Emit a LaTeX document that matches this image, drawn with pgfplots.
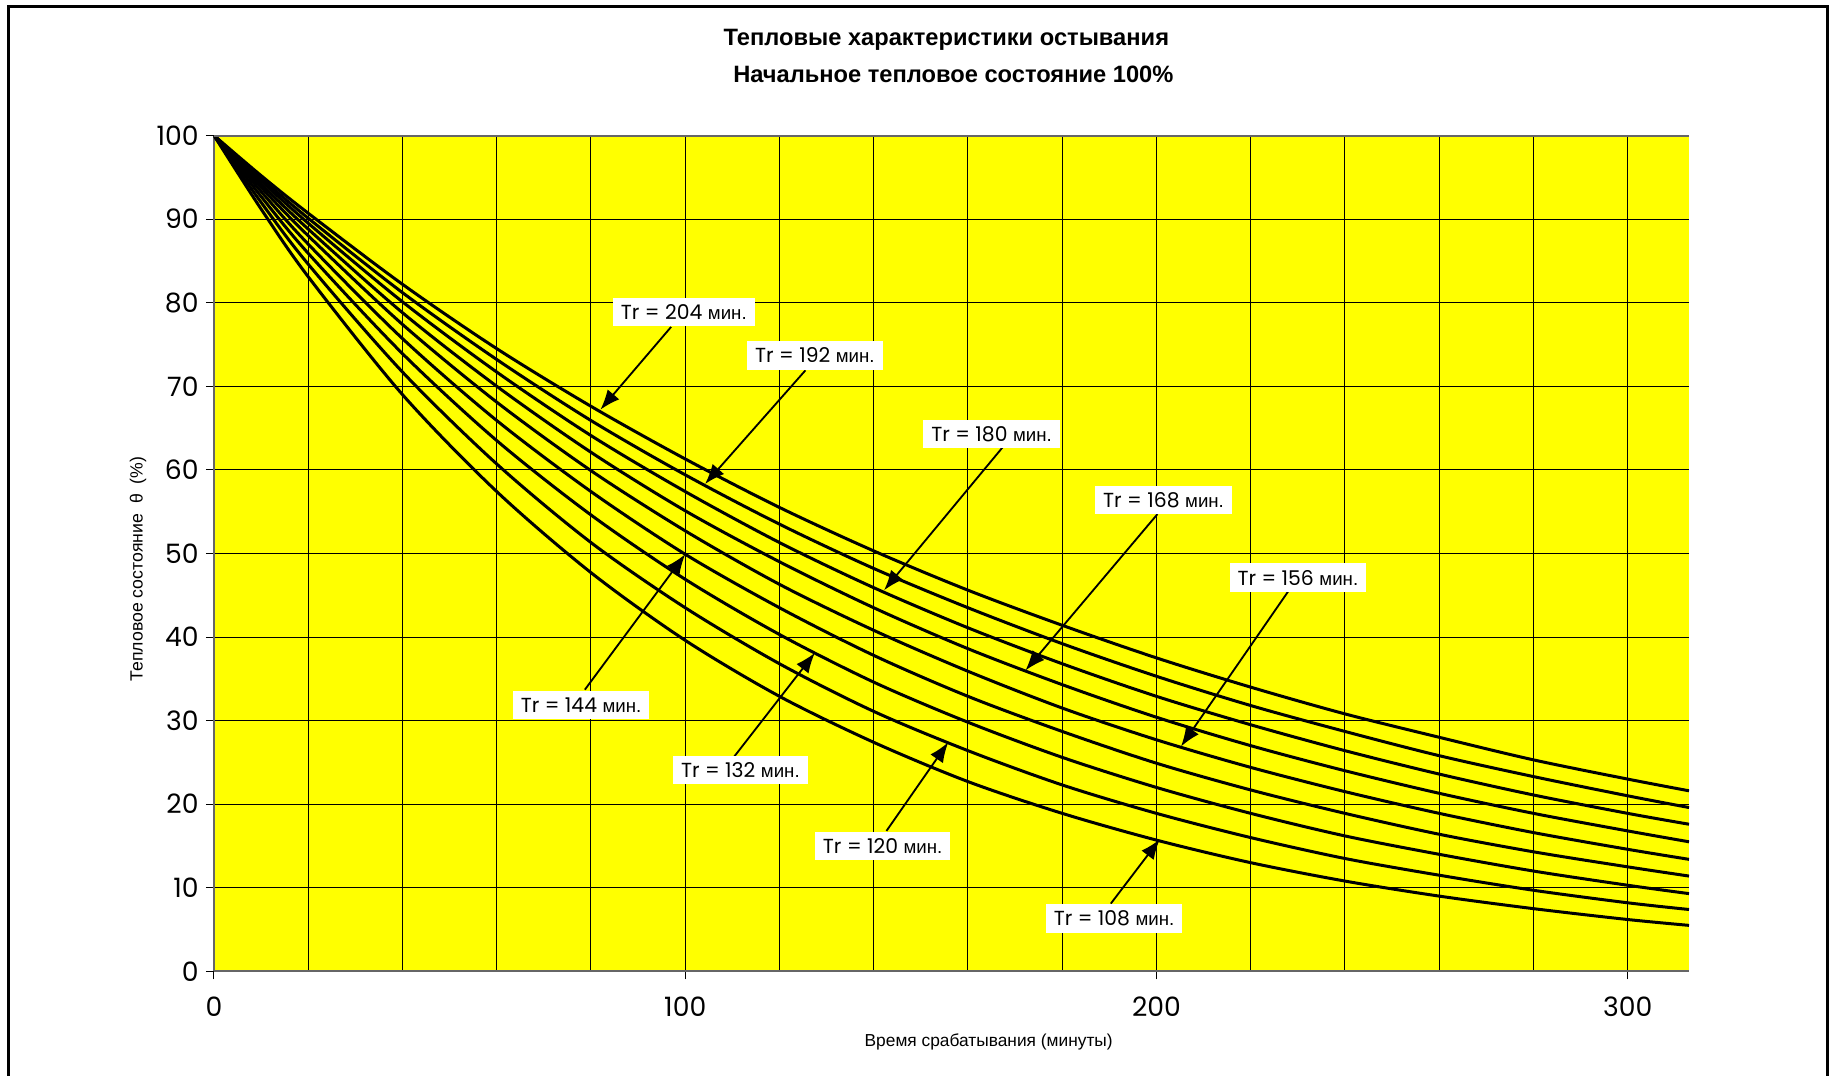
\documentclass[border=0pt]{standalone}
\usepackage{fontspec}
\setmainfont{Liberation Sans}
\newfontfamily\tickfont{Poppins}
\usepackage{pgfplots}
\pgfplotsset{compat=1.18}
\usetikzlibrary{arrows.meta}
\definecolor{yel}{RGB}{255,255,0}
\newcommand{\annot}[1]{{\tickfont\fontsize{6.1}{8}\selectfont Tr = #1}\,{\fontsize{5.6}{7}\selectfont мин.}}
\begin{document}
\begin{tikzpicture}[x=1pt,y=1pt]
\path[use as bounding box] (0,0) rectangle (549.6,322.5);
\draw[line width=0.9pt] (2.55,-5) -- (2.55,320.55) -- (548.25,320.55) -- (548.25,-5);
\begin{axis}[
  at={(64.2pt,31.1pt)}, anchor=south west,
  width=442.5pt, height=250.75pt, scale only axis,
  xmin=0, xmax=313, ymin=0, ymax=100,
  axis background/.style={fill=yel},
  axis lines*=left,
  axis line style={draw=gray!80!black, line width=0.6pt},
  xtick={0,100,200,300}, minor xtick={20,40,...,300},
  ytick={0,10,...,100},
  grid=both,
  major grid style={black, line width=0.3pt},
  minor grid style={black, line width=0.3pt},
  tick align=outside, major tick length=2.4pt, minor tick length=0pt,
  tick style={black, line width=0.3pt},
  ticklabel style={font=\tickfont\fontsize{8}{9.5}\selectfont},
  xticklabel style={yshift=-1.6pt},
  yticklabel style={xshift=1.3pt},
  /pgf/number format/assume math mode=true,
]
% Tr = 108
\addplot[black, line width=0.9pt, smooth] coordinates {(0,100) (10,91.2) (20,83.1) (40,69.0) (60,57.4) (80,47.7) (100,39.6) (120,32.9) (140,27.4) (160,22.7) (180,18.9) (200,15.7) (220,13.0) (240,10.8) (260,9.0) (280,7.5) (300,6.2) (313,5.5)};
% Tr = 120
\addplot[black, line width=0.9pt, smooth] coordinates {(0,100) (10,92.0) (20,84.6) (40,71.7) (60,60.7) (80,51.3) (100,43.5) (120,36.8) (140,31.1) (160,26.4) (180,22.3) (200,18.9) (220,16.0) (240,13.5) (260,11.5) (280,9.7) (300,8.2) (313,7.4)};
% Tr = 132
\addplot[black, line width=0.9pt, smooth] coordinates {(0,100) (10,92.7) (20,85.9) (40,73.9) (60,63.5) (80,54.6) (100,46.9) (120,40.3) (140,34.6) (160,29.8) (180,25.6) (200,22.0) (220,18.9) (240,16.2) (260,14.0) (280,12.0) (300,10.3) (313,9.3)};
% Tr = 144
\addplot[black, line width=0.9pt, smooth] coordinates {(0,100) (10,93.3) (20,87.0) (40,75.7) (60,65.9) (80,57.4) (100,49.9) (120,43.5) (140,37.8) (160,32.9) (180,28.7) (200,24.9) (220,21.7) (240,18.9) (260,16.4) (280,14.3) (300,12.5) (313,11.4)};
% Tr = 156
\addplot[black, line width=0.9pt, smooth] coordinates {(0,100) (10,93.8) (20,88.0) (40,77.4) (60,68.1) (80,59.9) (100,52.7) (120,46.3) (140,40.8) (160,35.9) (180,31.5) (200,27.7) (220,24.4) (240,21.5) (260,18.9) (280,16.6) (300,14.6) (313,13.4)};
% Tr = 168
\addplot[black, line width=0.9pt, smooth] coordinates {(0,100) (10,94.2) (20,88.8) (40,78.8) (60,70.0) (80,62.1) (100,55.1) (120,49.0) (140,43.5) (160,38.6) (180,34.3) (200,30.4) (220,27.0) (240,24.0) (260,21.3) (280,18.9) (300,16.8) (313,15.5)};
% Tr = 180
\addplot[black, line width=0.9pt, smooth] coordinates {(0,100) (10,94.6) (20,89.5) (40,80.1) (60,71.7) (80,64.1) (100,57.4) (120,51.3) (140,45.9) (160,41.1) (180,36.8) (200,32.9) (220,29.5) (240,26.4) (260,23.6) (280,21.1) (300,18.9) (313,17.6)};
% Tr = 192
\addplot[black, line width=0.9pt, smooth] coordinates {(0,100) (10,94.9) (20,90.1) (40,81.2) (60,73.2) (80,65.9) (100,59.4) (120,53.5) (140,48.2) (160,43.5) (180,39.2) (200,35.3) (220,31.8) (240,28.7) (260,25.8) (280,23.3) (300,21.0) (313,19.6)};
% Tr = 204
\addplot[black, line width=0.9pt, smooth] coordinates {(0,100) (10,95.2) (20,90.7) (40,82.2) (60,74.5) (80,67.6) (100,61.3) (120,55.5) (140,50.3) (160,45.6) (180,41.4) (200,37.5) (220,34.0) (240,30.8) (260,28.0) (280,25.3) (300,23.0) (313,21.6)};

\draw[gray!80!black, line width=0.6pt] (axis cs:0,100) -- (axis cs:313,100);
\tikzset{arr/.style={-{Latex[length=6pt,width=4.6pt]}, line width=0.55pt, black},
         lab/.style={fill=white, inner xsep=2.4pt, inner ysep=2pt}}
\draw[arr] (axis cs:97.0,77.1) -- (axis cs:82.0,67.2);
\draw[arr] (axis cs:125.5,71.9) -- (axis cs:104.2,58.3);
\draw[arr] (axis cs:167.5,62.8) -- (axis cs:142.2,45.6);
\draw[arr] (axis cs:200.2,54.7) -- (axis cs:172.2,36.0);
\draw[arr] (axis cs:228.0,45.5) -- (axis cs:205.2,26.9);
\draw[arr] (axis cs:78.7,33.7) -- (axis cs:100.0,49.9);
\draw[arr] (axis cs:110.4,25.7) -- (axis cs:127.5,38.1);
\draw[arr] (axis cs:142.7,16.8) -- (axis cs:155.8,27.4);
\draw[arr] (axis cs:190.3,8.1) -- (axis cs:200.7,15.8);
\node[lab] at (axis cs:99.7,78.9) {\annot{204}};
\node[lab] at (axis cs:127.5,73.7) {\annot{192}};
\node[lab] at (axis cs:165.0,64.3) {\annot{180}};
\node[lab] at (axis cs:201.5,56.4) {\annot{168}};
\node[lab] at (axis cs:230.0,47.1) {\annot{156}};
\node[lab] at (axis cs:77.9,31.9) {\annot{144}};
\node[lab] at (axis cs:111.7,24.1) {\annot{132}};
\node[lab] at (axis cs:141.9,15.0) {\annot{120}};
\node[lab] at (axis cs:191.0,6.3) {\annot{108}};
\end{axis}
\node[font=\bfseries\fontsize{7.1}{8.5}\selectfont] at (283.9,310.5) {Тепловые характеристики остывания};
\node[font=\bfseries\fontsize{7.1}{8.5}\selectfont] at (286.0,300.2) {Начальное тепловое состояние 100\%};
\node[rotate=90, font=\fontsize{5.3}{6.4}\selectfont] at (41.4,151.8) {Тепловое состояние~~θ~~(\%)};
\node[font=\fontsize{5.2}{6.3}\selectfont] at (296.6,10.0) {Время срабатывания (минуты)};
\end{tikzpicture}
\end{document}
